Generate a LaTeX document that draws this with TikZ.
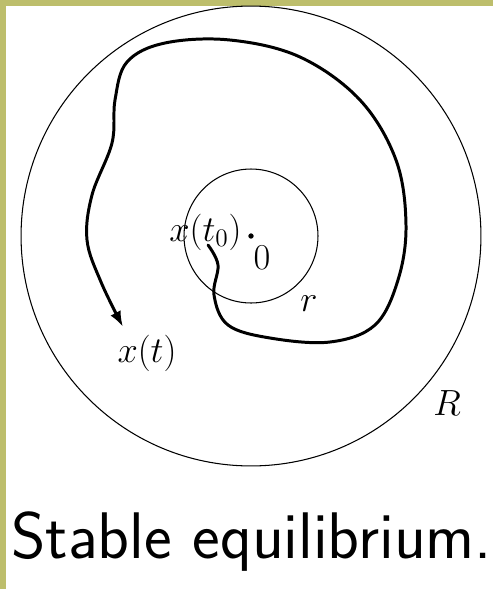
\documentclass[tikz,border=0pt]{standalone}
\usepackage{amsmath,amssymb}
\usepackage{tikz}
\usetikzlibrary{arrows.meta}
\definecolor{frameolive}{RGB}{189,190,108}

\begin{document}
\begin{tikzpicture}[x=0.02cm,y=-0.02cm,
    lbl/.style={inner sep=0pt,font=\fontsize{22}{26}\selectfont},
    traj/.style={line width=1.7pt,line cap=round,line join=round}]
  \useasboundingbox (0,0) rectangle (493,589);
  \fill[frameolive] (0,0) rectangle (493,6);
  \fill[frameolive] (0,0) rectangle (6,589);
  % the two balls round the origin
  \coordinate (o) at (251,236);
  \draw[line width=0.6pt] (o) circle[radius=4.6cm];
  \draw[line width=0.6pt] (o) circle[radius=1.34cm];
  \filldraw (o) circle (1.3pt);
  \node[lbl] (zero) at (262,258) {$0$};
  \node[lbl,anchor=east] (xt0) at (242,232) {$x(t_0)$};
  \node[lbl] (rlab) at (309,304) {$r$};
  \node[lbl] (Rlab) at (447,403) {$R$};
  \node[lbl] (xt) at (147,353) {$x(t)$};
  % trajectory
  \coordinate (start) at (208,245);
  \coordinate (tip) at (123,327);
  \draw[traj,-{Latex[length=9pt,width=6.5pt]}] plot[smooth,tension=0.6] coordinates {
    (start) (218,265) (214,295) (228,325) (270,338) (330,342) (375,325)
    (398,280) (406,225) (396,160) (360,100) (300,57) (230,40) (165,43)
    (127,62) (115,100) (112,143) (92,195) (87,240) (101,282) (tip)};
  \node[anchor=base west,inner sep=0pt,font=\fontsize{37.5}{42}\selectfont\sffamily]
    (caption) at (11,558) {Stable equilibrium.};
\end{tikzpicture}
\end{document}
